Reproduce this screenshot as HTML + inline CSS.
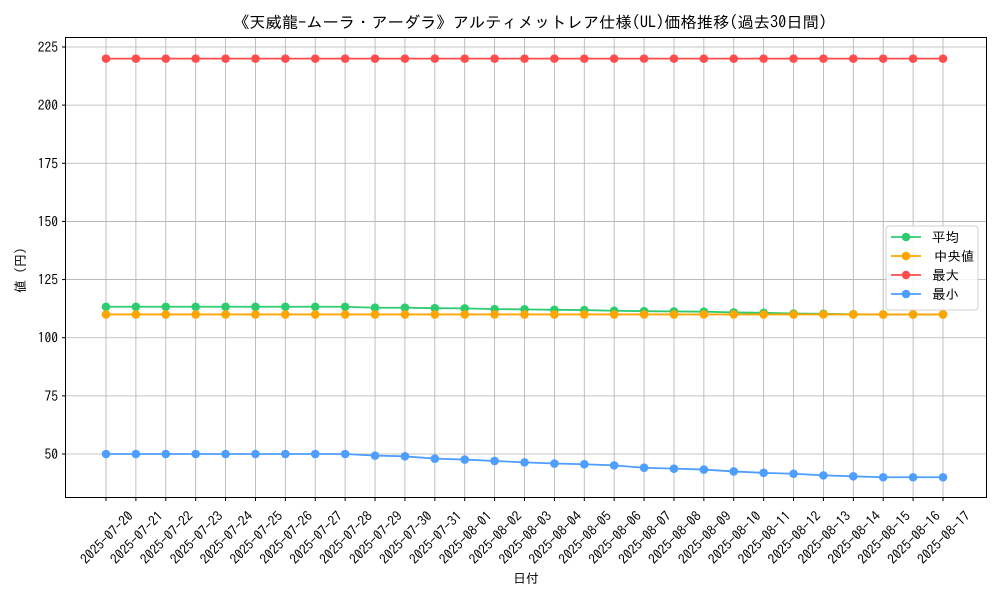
<!DOCTYPE html>
<html><head><meta charset="utf-8"><style>
body{margin:0;background:#fff}
svg text{font-family:"IPAGothic","Noto Sans CJK JP",sans-serif;fill:#000}
</style></head><body>
<svg id="chart" width="1000" height="600" xmlns="http://www.w3.org/2000/svg">
<rect width="1000" height="600" fill="#fff"/>
<text x="530" y="28" font-size="16" text-anchor="middle" textLength="594" lengthAdjust="spacingAndGlyphs">《天威龍-ムーラ・アーダラ》アルティメットレア仕様(UL)価格推移(過去30日間)</text>
<g id="grid"></g><g id="axes"></g><g id="series"></g>
<rect x="65.5" y="37.5" width="921" height="460" fill="none" stroke="#000" stroke-width="1"/>
<text x="526" y="583" font-size="13" text-anchor="middle">日付</text>
<text x="0" y="0" font-size="13" text-anchor="middle" transform="translate(25,267) rotate(-90)">値（円）</text>
<g id="legend"></g>
</svg>
<script>
const dates=["2025-07-20","2025-07-21","2025-07-22","2025-07-23","2025-07-24","2025-07-25","2025-07-26","2025-07-27","2025-07-28","2025-07-29","2025-07-30","2025-07-31","2025-08-01","2025-08-02","2025-08-03","2025-08-04","2025-08-05","2025-08-06","2025-08-07","2025-08-08","2025-08-09","2025-08-10","2025-08-11","2025-08-12","2025-08-13","2025-08-14","2025-08-15","2025-08-16","2025-08-17"];
const avgVals=[113.3,113.3,113.3,113.3,113.3,113.3,113.3,113.3,113.3,112.9,112.9,112.7,112.6,112.3,112.2,112,111.9,111.6,111.4,111.3,111.2,110.9,110.7,110.4,110.3,110.1,110,110,110];
const medVals=[110,110,110,110,110,110,110,110,110,110,110,110,110,110,110,110,110,110,110,110,110,110,110,110,110,110,110,110,110];
const maxVals=[220,220,220,220,220,220,220,220,220,220,220,220,220,220,220,220,220,220,220,220,220,220,220,220,220,220,220,220,220];
const minVals=[50,50,50,50,50,50,50,50,50,49.3,49,48,47.6,47,46.4,45.9,45.6,45.1,44.1,43.7,43.3,42.5,41.9,41.5,40.8,40.4,40,40,40];
const yTicks=[50,75,100,125,150,175,200,225];
const seriesNames=["平均","中央値","最大","最小"];
const NS="http://www.w3.org/2000/svg";
const xs=i=>106+i*(943-106)/(dates.length-1);
const ys=v=>454-(v-50)*(454-47)/175;
function mk(t,a,p){const e=document.createElementNS(NS,t);for(const k in a)e.setAttribute(k,a[k]);p.appendChild(e);return e;}
const grid=document.getElementById('grid'),axes=document.getElementById('axes'),ser=document.getElementById('series'),leg=document.getElementById('legend');
dates.forEach((d,i)=>{const x=xs(i);
 const g=mk('line',{x1:x,x2:x,y1:37.5,y2:497.5,stroke:'#b0b0b0','stroke-width':0.8},grid);
 
 
 const tk=mk('line',{x1:x,x2:x,y1:497.5,y2:501,stroke:'#000'},axes);
 
 
 const t=mk('text',{'font-size':13.5,'text-anchor':'end',transform:`translate(${x+28},${517}) rotate(-45)`},axes);
 t.textContent=d;
 
 
});
yTicks.forEach(v=>{const y=ys(v);
 const g=mk('line',{x1:65.5,x2:986.5,y1:y,y2:y,stroke:'#b0b0b0','stroke-width':0.8},grid);
 
 
 const tk=mk('line',{x1:62,x2:65.5,y1:y,y2:y,stroke:'#000'},axes);
 
 
 const t=mk('text',{x:58,y:y+5,'font-size':13.5,'text-anchor':'end'},axes);
 t.textContent=v;
 
 
});
const allSeries=[avgVals,medVals,maxVals,minVals];
const colors=["#2ecc71","#ffa500","#ff4d4d","#4d9eff"];
const keys=["avg","median","max","min"];
allSeries.forEach((vals,si)=>{
 const g=mk('g',{},ser);
 
 
 const pl=mk('polyline',{points:vals.map((v,i)=>xs(i)+','+ys(v)).join(' '),fill:'none',stroke:colors[si],'stroke-width':1.8},g);
 
 
 vals.forEach((v,i)=>{const c=mk('circle',{cx:xs(i),cy:ys(v),r:4.3,fill:colors[si]},g);
  
  });
});
mk('rect',{x:886,y:226,width:92,height:84,rx:3,fill:'#fff','fill-opacity':0.85,stroke:'#d0d0d0'},leg);
seriesNames.forEach((n,i)=>{const y=237+i*19;
 const e=mk('g',{},leg);
 
 
 mk('line',{x1:891,x2:921,y1:y,y2:y,stroke:colors[i],'stroke-width':1.8},e);
 mk('circle',{cx:906,cy:y,r:4.3,fill:colors[i]},e);
 const t=mk('text',{x:i==1?934:932,y:y+5,'font-size':13.5},e);
 t.textContent=n;
});
</script>
</body></html>
